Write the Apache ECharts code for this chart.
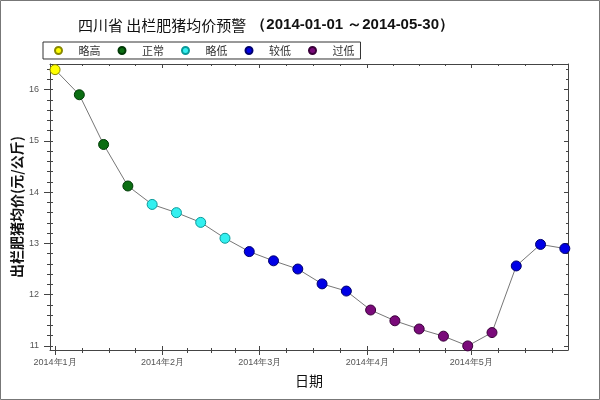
<!DOCTYPE html>
<html><head><meta charset="utf-8">
<script src="https://cdn.jsdelivr.net/npm/echarts@6/dist/echarts.min.js"></script>
<style>html,body{margin:0;padding:0;background:#fff}#c{width:600px;height:400px}</style>
</head><body><div id="c"></div>
<script>
const dates = ['2014-01-01','2014-01-08','2014-01-15','2014-01-22','2014-01-29','2014-02-05','2014-02-12','2014-02-19','2014-02-26','2014-03-05','2014-03-12','2014-03-19','2014-03-26','2014-04-02','2014-04-09','2014-04-16','2014-04-23','2014-04-30','2014-05-07','2014-05-14','2014-05-21','2014-05-28'];
const prices = [16.39,15.90,14.93,14.12,13.76,13.60,13.41,13.10,12.84,12.66,12.50,12.21,12.07,11.70,11.49,11.33,11.19,11.00,11.26,12.56,12.98,12.90];
const levelOf = ['略高','正常','正常','正常','略低','略低','略低','略低','较低','较低','较低','较低','较低','过低','过低','过低','过低','过低','过低','较低','较低','较低'];
const levels = ['略高','正常','略低','较低','过低'];
const levelColors = ['#ffff00','#0b6e12','#33f0f0','#0000e6','#7a0a7a'];
const levelBorders = ['#8a8a00','#003a06','#0a9a9a','#00006e','#3a003a'];
const yMajorTicks = [11,12,13,14,15,16];
const yMinorTicks = [11.2,11.4,11.6,11.8,12.2,12.4,12.6,12.8,13.2,13.4,13.6,13.8,14.2,14.4,14.6,14.8,15.2,15.4,15.6,15.8,16.2,16.4];
const monthTicks = ['2014-01-01','2014-02-01','2014-03-01','2014-04-01','2014-05-01','2014-06-01'];

function ts(s){const p=s.split('-').map(Number);return new Date(p[0],p[1]-1,p[2]).getTime();}
const xMin = new Date(2013,11,30,13).getTime();
const xMax = new Date(2014,4,28,22).getTime();
const yMin = 10.92, yMax = 16.5;
const monthTs = monthTicks.map(ts);
const xMajor = monthTs.filter(v=>v>=xMin && v<=xMax);
const xMinor = [];
for (let i=0;i<monthTs.length-1;i++){
  for (let k=1;k<4;k++){
    const v = monthTs[i] + (monthTs[i+1]-monthTs[i])*k/4;
    if (v>xMin && v<xMax) xMinor.push(v);
  }
}
const AX = '#444';
function xa(pos, vals, len, inside, extra){
  return Object.assign({type:'value', position:pos, min:xMin, max:xMax, scale:true,
    axisLine:{show:false}, splitLine:{show:false}, axisLabel:{show:false},
    minorTick:{show:false},
    axisTick:{show:true, inside:inside, length:len, customValues:vals, lineStyle:{color:AX}}}, extra||{});
}
function ya(pos, vals, len, inside, extra){
  return Object.assign({type:'value', position:pos, min:yMin, max:yMax,
    axisLine:{show:false}, splitLine:{show:false}, axisLabel:{show:false},
    minorTick:{show:false},
    axisTick:{show:true, inside:inside, length:len, customValues:vals, lineStyle:{color:AX}}}, extra||{});
}
const xAxes = [
  xa('bottom', xMajor, 5, false, {
    axisLine:{show:true, lineStyle:{color:AX}},
    axisLabel:{show:true, customValues:xMajor, margin:8, fontSize:9, color:'#555', fontFamily:'Arial, Liberation Sans',
      formatter:function(v){const d=new Date(v);return d.getFullYear()+'年'+(d.getMonth()+1)+'月';}},
    name:'日期', nameLocation:'middle', nameGap:24, nameMoveOverlap:false,
    nameTextStyle:{fontSize:14, color:'#111', fontFamily:'Noto Sans CJK SC'}
  }),
  xa('bottom', xMajor, 4, true),
  xa('bottom', xMinor, 3, false),
  xa('bottom', xMinor, 2, true),
  xa('top', xMajor, 4, true, {axisLine:{show:true, lineStyle:{color:AX}}}),
  xa('top', xMinor, 2, true)
];
const yAxes = [
  ya('left', yMajorTicks, 6, false, {
    axisLine:{show:true, lineStyle:{color:AX}},
    axisLabel:{show:true, customValues:yMajorTicks, margin:11, fontSize:9, color:'#555', fontFamily:'Arial, Liberation Sans'},
    name:'出栏肥猪均价(元/公斤)', nameLocation:'middle', nameGap:26, nameRotate:90, nameMoveOverlap:false,
    nameTextStyle:{fontSize:14, color:'#111', fontWeight:'bold', fontFamily:'Noto Sans CJK SC'}
  }),
  ya('left', yMajorTicks, 3, true),
  ya('left', yMinorTicks, 3, false),
  ya('left', yMinorTicks, 3, true),
  ya('right', yMajorTicks, 4, true, {axisLine:{show:true, lineStyle:{color:AX}}}),
  ya('right', yMinorTicks, 2, true)
];
const lineData = dates.map((d,i)=>[ts(d), prices[i]]);
const series = [{
  type:'line', name:'line', data:lineData, showSymbol:false, symbol:'none', silent:true, z:1,
  lineStyle:{color:'#777', width:1}
}];
levels.forEach((lv, j)=>{
  series.push({
    type:'scatter', name:lv, z:3, symbol:'circle', symbolSize:10,
    data: lineData.filter((p,i)=>levelOf[i]===lv),
    itemStyle:{color:levelColors[j], borderColor:levelBorders[j], borderWidth:1, opacity:1}
  });
});
const chart = echarts.init(document.getElementById('c'), null, {renderer:'canvas'});
chart.setOption({
  backgroundColor:'#fff',
  animation:false,
  title:{
    text:'{a|四川省 出栏肥猪均价预警} {b|（2014-01-01 ～2014-05-30）}',
    left:73, top:11,
    textStyle:{fontWeight:'normal', rich:{
      a:{fontSize:15, color:'#111', fontWeight:'normal', fontFamily:'Noto Sans CJK SC'},
      b:{fontSize:15, color:'#111', fontWeight:'bold', fontFamily:'Liberation Sans, Arial'}
    }}
  },
  legend:{
    data:levels, left:43, top:42, orient:'horizontal',
    icon:'circle', itemWidth:20, itemHeight:7, itemGap:17,
    padding:[3,6,3,11], borderColor:'#333', borderWidth:1,
    textStyle:{fontSize:11, color:'#333', fontFamily:'Noto Sans CJK SC', padding:[0,0,0,5]}
  },
  grid:{left:50, right:32, top:64, bottom:50, outerBoundsMode:'none'},
  xAxis:xAxes,
  yAxis:yAxes,
  graphic:[{type:'rect', shape:{x:0.5,y:0.5,width:599,height:399}, style:{fill:'none', stroke:'#777', lineWidth:1}, silent:true, z:100}],
  series:series
});
</script></body></html>
